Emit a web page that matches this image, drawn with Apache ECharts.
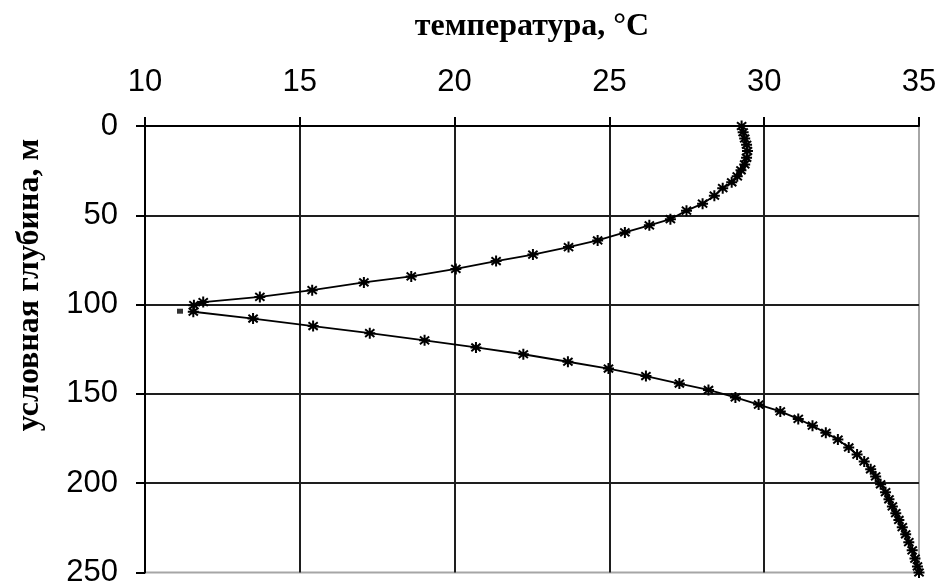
<!DOCTYPE html>
<html>
<head>
<meta charset="utf-8">
<script src="https://cdn.jsdelivr.net/npm/echarts@6/dist/echarts.min.js"></script>
<style>
html,body{margin:0;padding:0;background:#fff;}
#chart{width:940px;height:588px;}
</style>
</head>
<body>
<div id="chart"></div>
<script>
// Temperature profile (°C) vs conditional depth (m)
const tempTicks = [10, 15, 20, 25, 30, 35];
const depthTicks = [0, 50, 100, 150, 200, 250];

const depthUpper = [0, 3.5, 7, 10.5, 14, 17.8, 21.5, 24.8, 28.2, 31.5, 34.8, 39, 43.5, 47.4, 52.2, 55.6, 59.6, 64.1, 67.8, 72, 75.6, 80, 84.2, 87.6, 91.9, 95.7, 98.6, 100.3];
const tempUpper  = [29.27, 29.32, 29.37, 29.43, 29.46, 29.43, 29.37, 29.25, 29.13, 28.95, 28.66, 28.39, 28.01, 27.49, 26.97, 26.29, 25.5, 24.62, 23.68, 22.53, 21.34, 20.04, 18.6, 17.07, 15.4, 13.71, 11.88, 11.58];

const depthLower = [104, 107.8, 112, 116, 120, 124, 127.8, 132, 135.8, 140, 144.2, 147.8, 152, 156, 159.8, 164, 167.8, 171.8, 175.6, 180, 184, 187.8, 192.2, 196.2, 200.6, 205, 209, 213, 216.8, 220.6, 224.6, 228.6, 233, 237.6, 242.2, 246.6, 250];
const tempLower  = [11.56, 13.49, 15.43, 17.26, 19.03, 20.69, 22.22, 23.66, 24.97, 26.18, 27.26, 28.2, 29.07, 29.82, 30.52, 31.1, 31.56, 31.99, 32.38, 32.73, 33.0, 33.23, 33.44, 33.6, 33.76, 33.92, 34.03, 34.14, 34.25, 34.35, 34.46, 34.57, 34.67, 34.78, 34.87, 34.95, 35.0];

const extraTemp = [11.13];
const extraDepth = [103.7];

const xTitle = 'температура, °C';
const yTitle = 'условная глубина, м';

const profile = [];
for (let i = 0; i < depthUpper.length; i++) profile.push([tempUpper[i], depthUpper[i]]);
for (let i = 0; i < depthLower.length; i++) profile.push([tempLower[i], depthLower[i]]);
const extra = extraTemp.map((t, i) => [t, extraDepth[i]]);

const chart = echarts.init(document.getElementById('chart'), null, {renderer: 'canvas'});
const gridLine = {show: true, showMinLine: false, showMaxLine: false, lineStyle: {color: '#1e1e1e', width: 2}};
chart.setOption({
  animation: false,
  backgroundColor: '#ffffff',
  grid: {left: 145, right: 21, top: 126, bottom: 12, show: true, borderColor: '#a6a6a6', borderWidth: 2, containLabel: false},
  xAxis: {
    type: 'value', position: 'top',
    min: tempTicks[0], max: tempTicks[tempTicks.length - 1], interval: 5,
    axisLine: {show: true, onZero: false, lineStyle: {color: '#000', width: 2}},
    axisTick: {show: true, inside: false, length: 9, lineStyle: {color: '#000', width: 2}},
    axisLabel: {show: true, margin: 28, color: '#000', fontFamily: 'Liberation Sans', fontSize: 31},
    splitLine: gridLine
  },
  yAxis: {
    type: 'value', inverse: true,
    min: depthTicks[0], max: depthTicks[depthTicks.length - 1], interval: 50,
    axisLine: {show: true, onZero: false, lineStyle: {color: '#000', width: 2}},
    axisTick: {show: true, inside: false, length: 9, lineStyle: {color: '#000', width: 2}},
    axisLabel: {show: true, margin: 27, color: '#000', fontFamily: 'Liberation Sans', fontSize: 31},
    splitLine: gridLine
  },
  graphic: [
    {type: 'text', x: 532, y: 27, style: {text: xTitle, fill: '#000', font: 'bold 32px "Liberation Serif"', align: 'center', verticalAlign: 'middle'}},
    {type: 'text', x: 30, y: 285, rotation: Math.PI / 2, style: {text: yTitle, fill: '#000', font: 'bold 32px "Liberation Serif"', align: 'center', verticalAlign: 'middle'}}
  ],
  series: [
    {
      type: 'line', data: profile, clip: false,
      symbol: 'path://M5 0 L5 10 M0.8 1.5 L9.2 8.5 M9.2 1.5 L0.8 8.5 M0 5 L10 5',
      symbolSize: 11, showAllSymbol: true,
      lineStyle: {color: '#000', width: 1.8},
      itemStyle: {color: '#000', borderColor: '#000', borderWidth: 2},
      z: 5
    },
    {
      type: 'scatter', data: extra, clip: false,
      symbol: 'rect', symbolSize: [6, 5],
      itemStyle: {color: '#000'}, z: 6
    }
  ]
});
</script>
</body>
</html>
